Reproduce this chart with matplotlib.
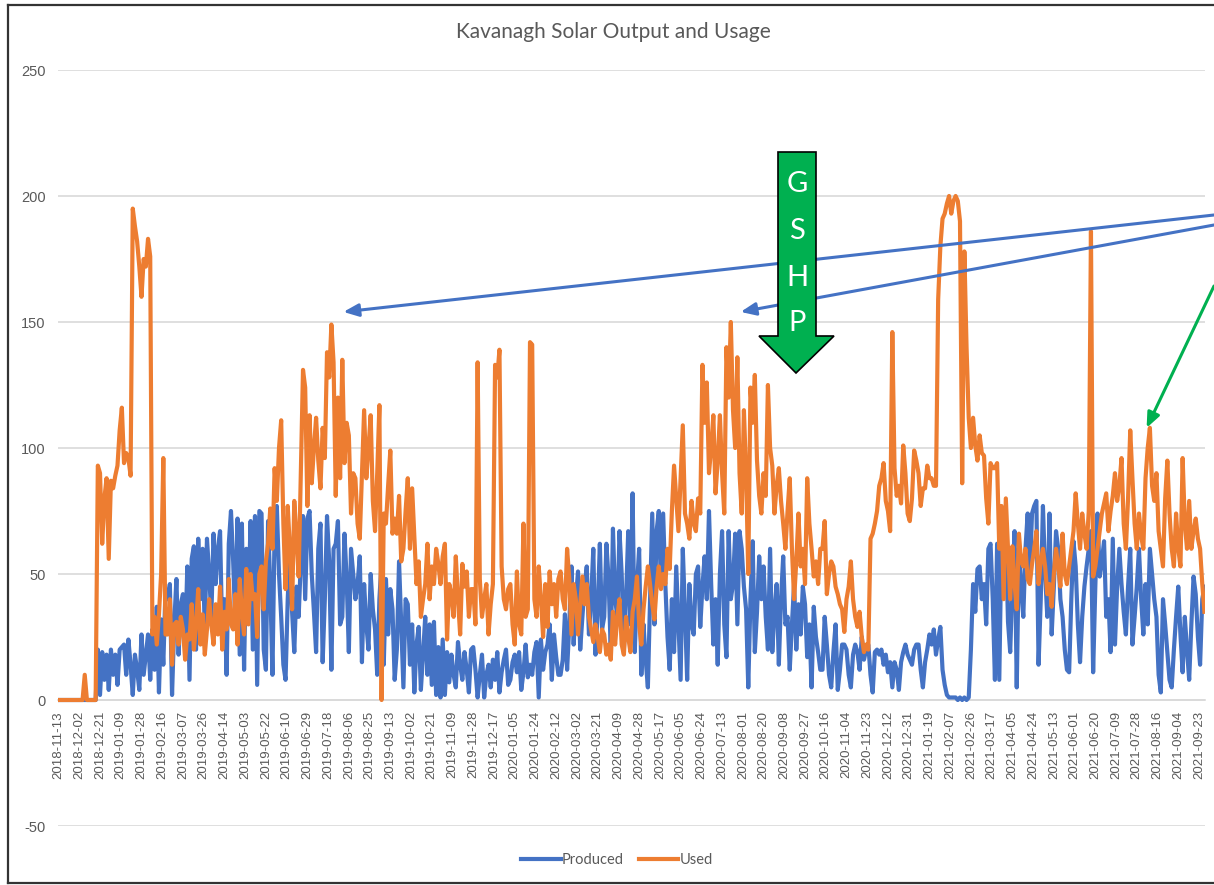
import matplotlib
matplotlib.use("Agg")
import matplotlib.pyplot as plt
import pandas as pd
from matplotlib.patches import Polygon
from matplotlib.lines import Line2D

plt.rcParams["axes.unicode_minus"] = False

# ---------------- data (one value every 2 days) ----------------
start_date = "2018-11-13"
step_days = 2

produced = [
    0, 0, 0, 0, 0, 0, 0, 0, 0, 0,
    0, 0, 0, 0, 0, 0, 0, 0, 20, 2,
    19, 8, 18, 4, 20, 10, 18, 6, 20, 21,
    22, 10, 24, 14, 2, 18, 12, 4, 26, 10,
    18, 26, 8, 28, 12, 37, 3, 32, 14, 44,
    40, 46, 2, 30, 48, 18, 38, 42, 22, 53,
    8, 56, 61, 20, 64, 40, 60, 28, 64, 50,
    33, 66, 46, 60, 67, 25, 40, 10, 62, 75,
    55, 30, 72, 18, 70, 12, 60, 40, 71, 20,
    73, 6, 75, 74, 20, 12, 71, 45, 10, 68,
    77, 50, 33, 14, 8, 40, 60, 35, 19, 45,
    33, 55, 73, 40, 72, 75, 50, 35, 19, 60,
    70, 15, 40, 73, 55, 12, 60, 62, 71, 30,
    33, 66, 48, 19, 60, 50, 40, 46, 57, 15,
    46, 30, 20, 50, 36, 28, 10, 40, 55, 14,
    48, 26, 44, 36, 8, 20, 55, 30, 5, 40,
    38, 14, 30, 3, 22, 29, 4, 18, 33, 10,
    30, 6, 31, 2, 21, 1, 24, 2, 19, 7,
    18, 10, 5, 23, 14, 8, 19, 12, 3, 20,
    21, 12, 1, 10, 18, 1, 10, 14, 5, 16,
    8, 19, 3, 11, 16, 20, 6, 8, 15, 18,
    11, 19, 4, 11, 22, 9, 14, 10, 19, 23,
    1, 24, 12, 19, 22, 30, 8, 26, 17, 10,
    10, 16, 34, 12, 30, 53, 22, 40, 51, 20,
    33, 45, 53, 26, 40, 60, 18, 35, 62, 28,
    33, 62, 48, 19, 68, 40, 33, 67, 50, 20,
    40, 67, 30, 82, 19, 45, 60, 10, 30, 16,
    5, 40, 74, 30, 67, 75, 45, 74, 46, 25,
    12, 40, 19, 53, 30, 8, 60, 35, 8, 46,
    30, 26, 50, 53, 29, 45, 57, 40, 75, 46,
    22, 40, 14, 50, 67, 30, 17, 67, 40, 46,
    66, 30, 67, 60, 45, 36, 5, 40, 63, 19,
    35, 57, 40, 53, 33, 20, 60, 19, 35, 46,
    14, 40, 57, 30, 33, 12, 30, 46, 20, 38,
    26, 45, 38, 17, 30, 5, 37, 25, 19, 12,
    12, 33, 22, 10, 5, 19, 30, 4, 12, 22,
    22, 20, 10, 5, 18, 22, 19, 12, 25, 16,
    20, 22, 10, 3, 19, 20, 18, 20, 14, 18,
    11, 15, 5, 15, 12, 4, 15, 19, 22, 18,
    16, 14, 20, 22, 22, 12, 5, 15, 20, 26,
    22, 28, 18, 24, 29, 12, 6, 2, 1, 1,
    1, 1, 0, 1, 0, 1, 0, 1, 20, 46,
    35, 52, 53, 40, 46, 30, 60, 62, 40, 8,
    62, 8, 64, 46, 66, 31, 19, 46, 67, 5,
    60, 45, 33, 60, 74, 50, 74, 77, 79, 14,
    40, 77, 50, 33, 74, 26, 45, 67, 60, 40,
    33, 20, 12, 11, 40, 63, 53, 30, 15, 33,
    45, 53, 60, 67, 11, 45, 74, 49, 55, 63,
    33, 40, 19, 64, 22, 45, 60, 46, 35, 26,
    45, 60, 22, 33, 45, 60, 40, 26, 46, 30,
    60, 50, 40, 33, 10, 3, 40, 30, 19, 8,
    5, 20, 33, 45, 26, 11, 33, 20, 8, 30,
    49, 42, 25, 14, 40, 45,
]

used = [
    0, 0, 0, 0, 0, 0, 0, 0, 0, 0,
    0, 0, 10, 0, 0, 0, 0, 0, 93, 90,
    62, 80, 88, 56, 87, 84, 89, 93, 107, 116,
    94, 98, 96, 89, 195, 188, 182, 172, 160, 175,
    172, 183, 176, 26, 33, 22, 34, 50, 96, 26,
    26, 40, 14, 30, 31, 22, 33, 28, 16, 26,
    24, 38, 20, 30, 44, 22, 34, 18, 28, 40,
    30, 22, 38, 26, 45, 20, 35, 28, 48, 30,
    28, 42, 22, 48, 35, 26, 52, 30, 50, 40,
    42, 25, 50, 53, 36, 55, 62, 76, 60, 92,
    79, 100, 111, 70, 44, 77, 60, 36, 79, 65,
    49, 90, 131, 124, 77, 113, 86, 100, 112, 95,
    84, 108, 96, 138, 128, 149, 134, 81, 120, 88,
    135, 94, 110, 105, 74, 90, 88, 70, 64, 90,
    115, 88, 100, 113, 79, 67, 90, 117, 0, 74,
    70, 85, 99, 66, 72, 66, 81, 55, 60, 75,
    88, 60, 84, 65, 46, 55, 33, 40, 46, 62,
    40, 53, 46, 60, 54, 46, 57, 62, 24, 46,
    42, 33, 57, 40, 26, 54, 45, 51, 33, 44,
    44, 30, 134, 48, 33, 40, 46, 26, 38, 46,
    133, 128, 139, 53, 40, 36, 44, 46, 30, 22,
    51, 30, 26, 70, 33, 36, 142, 141, 40, 33,
    53, 40, 25, 46, 29, 51, 38, 46, 33, 48,
    51, 40, 36, 60, 48, 26, 46, 40, 26, 38,
    49, 38, 46, 33, 28, 23, 30, 25, 19, 28,
    26, 18, 22, 16, 35, 22, 33, 40, 22, 18,
    33, 25, 19, 35, 40, 49, 30, 22, 36, 45,
    53, 46, 38, 32, 45, 53, 44, 50, 46, 60,
    52, 75, 93, 80, 67, 88, 109, 74, 70, 64,
    79, 70, 67, 80, 74, 133, 110, 126, 90, 100,
    113, 82, 95, 113, 90, 74, 140, 120, 150, 115,
    100, 136, 90, 74, 115, 90, 50, 124, 110, 129,
    95, 81, 74, 90, 81, 125, 100, 93, 74, 85,
    92, 79, 70, 60, 75, 88, 60, 40, 55, 74,
    53, 60, 46, 88, 70, 60, 49, 55, 46, 60,
    60, 71, 42, 50, 55, 53, 45, 42, 38, 36,
    27, 40, 45, 55, 40, 33, 29, 35, 25, 19,
    22, 20, 64, 66, 70, 75, 85, 88, 94, 79,
    75, 67, 146, 92, 81, 85, 78, 101, 90, 74,
    71, 80, 99, 95, 90, 77, 84, 84, 93, 88,
    88, 85, 85, 159, 180, 191, 193, 197, 200, 193,
    198, 200, 198, 190, 86, 178, 140, 112, 100, 112,
    101, 95, 105, 98, 97, 80, 70, 94, 92, 92,
    94, 60, 77, 40, 80, 60, 40, 61, 46, 36,
    66, 55, 53, 60, 48, 46, 54, 60, 67, 46,
    55, 60, 53, 42, 46, 37, 50, 60, 53, 45,
    66, 50, 46, 53, 60, 67, 82, 70, 60, 74,
    66, 60, 75, 186, 49, 53, 60, 67, 74, 78,
    82, 67, 75, 81, 90, 79, 85, 96, 70, 60,
    80, 107, 88, 70, 60, 74, 65, 60, 88, 100,
    108, 85, 79, 90, 67, 60, 53, 80, 95, 74,
    60, 53, 74, 60, 53, 96, 70, 60, 79, 60,
    67, 72, 64, 60, 46, 35,
]

tick_labels = [
    "2018-11-13", "2018-12-02", "2018-12-21", "2019-01-09", "2019-01-28", "2019-02-16",
    "2019-03-07", "2019-03-26", "2019-04-14", "2019-05-03", "2019-05-22", "2019-06-10",
    "2019-06-29", "2019-07-18", "2019-08-06", "2019-08-25", "2019-09-13", "2019-10-02",
    "2019-10-21", "2019-11-09", "2019-11-28", "2019-12-17", "2020-01-05", "2020-01-24",
    "2020-02-12", "2020-03-02", "2020-03-21", "2020-04-09", "2020-04-28", "2020-05-17",
    "2020-06-05", "2020-06-24", "2020-07-13", "2020-08-01", "2020-08-20", "2020-09-08",
    "2020-09-27", "2020-10-16", "2020-11-04", "2020-11-23", "2020-12-12", "2020-12-31",
    "2021-01-19", "2021-02-07", "2021-02-26", "2021-03-17", "2021-04-05", "2021-04-24",
    "2021-05-13", "2021-06-01", "2021-06-20", "2021-07-09", "2021-07-28", "2021-08-16",
    "2021-09-04", "2021-09-23",
]
y_ticks = [-50, 0, 50, 100, 150, 200, 250]
series_names = ["Produced", "Used"]
title_text = "Kavanagh Solar Output and Usage"

# annotation targets (peaks pointed at)
blue_targets = [("2019-08-01", 154), ("2020-07-30", 154)]
green_target = ("2021-08-06", 108)
gshp_letters = ["G", "S", "H", "P"]

# ---------------- styling ----------------
BLUE = "#4472C4"
ORANGE = "#ED7D31"
GREEN = "#00B050"
GRID = "#D9D9D9"
TXT = "#595959"
LW = 3.0

W, H, DPI = 1214, 885, 100
fig = plt.figure(figsize=(W / DPI, H / DPI), dpi=DPI)
fig.patch.set_facecolor("white")


def fx(px):
    return px / W


def fy(py):
    return 1 - py / H


dates = pd.date_range(start_date, periods=len(produced), freq=f"{step_days}D")

ax = fig.add_axes([fx(58), fy(826), fx(1205) - fx(58), fy(70) - fy(826)])
ax.plot(dates, produced, color=BLUE, lw=LW, solid_joinstyle="round", zorder=3)
ax.plot(dates, used, color=ORANGE, lw=LW, solid_joinstyle="round", zorder=4)

ax.set_xlim(dates[0] - pd.Timedelta(hours=12), dates[-1] + pd.Timedelta(hours=12))
ax.set_ylim(y_ticks[0], y_ticks[-1])
ax.set_yticks(y_ticks)
ax.yaxis.grid(True, color=GRID, lw=1.2)
ax.set_axisbelow(True)
for s in ["top", "right", "left"]:
    ax.spines[s].set_visible(False)
ax.spines["bottom"].set_position(("data", 0))
ax.spines["bottom"].set_color(GRID)
ax.spines["bottom"].set_linewidth(1.2)

ax.set_xticks(pd.to_datetime(tick_labels))
ax.set_xticklabels(tick_labels, rotation=90, fontsize=9.5, color=TXT,
                   family=["Liberation Sans", "DejaVu Sans"], va="top", ha="center")
ax.tick_params(axis="x", length=0, pad=8)
ax.tick_params(axis="y", length=0, pad=9, labelsize=10.5, labelcolor=TXT)
for lab in ax.get_yticklabels():
    lab.set_family(["Liberation Sans", "DejaVu Sans"])

fig.text(fx(613), fy(32), title_text, ha="center", va="center", fontsize=15,
         color=TXT, family=["Lato", "DejaVu Sans"])

handles = [Line2D([], [], color=BLUE, lw=LW), Line2D([], [], color=ORANGE, lw=LW)]
fig.legend(handles, series_names, loc="center", bbox_to_anchor=(fx(617), fy(860)),
           ncol=2, frameon=False, handlelength=2.7, handletextpad=0.1, columnspacing=1.0,
           prop={"family": ["Lato", "DejaVu Sans"], "size": 10.5}, labelcolor=TXT)

# GSHP block arrow (figure pixel geometry)
arrow_px = [(778, 152), (816, 152), (816, 336), (834, 336), (796, 373), (759, 336), (778, 336)]
poly = Polygon([(fx(x), fy(y)) for x, y in arrow_px], closed=True, transform=fig.transFigure,
               facecolor=GREEN, edgecolor="black", lw=1.2, zorder=10)
fig.add_artist(poly)
for letter, ypx in zip(gshp_letters, [184, 231, 278, 323]):
    fig.text(fx(797), fy(ypx), letter, ha="center", va="center", fontsize=21,
             color="white", family=["Lato", "DejaVu Sans"], zorder=11)

# arrows from the (cropped) right edge to the peaks
for (tdate, tval), ystart in zip(blue_targets, [215, 225]):
    ax.annotate("", xy=(pd.Timestamp(tdate), tval), xycoords="data",
                xytext=(fx(1214), fy(ystart)), textcoords="figure fraction",
                arrowprops=dict(arrowstyle="-|>,head_length=0.9,head_width=0.38",
                                color=BLUE, lw=2.2, shrinkA=0, shrinkB=0),
                annotation_clip=False, zorder=12)
ax.annotate("", xy=(pd.Timestamp(green_target[0]), green_target[1]), xycoords="data",
            xytext=(fx(1214), fy(286)), textcoords="figure fraction",
            arrowprops=dict(arrowstyle="-|>,head_length=0.9,head_width=0.38",
                            color=GREEN, lw=2.2, shrinkA=0, shrinkB=0),
            annotation_clip=False, zorder=12)

# picture frame (right side cropped off)
frame_kw = dict(color="#333333", lw=1.6, transform=fig.transFigure)
fig.add_artist(Line2D([fx(8), fx(8)], [fy(5), fy(883)], **frame_kw))
fig.add_artist(Line2D([fx(8), 1.0], [fy(5), fy(5)], **frame_kw))
fig.add_artist(Line2D([fx(8), 1.0], [fy(883), fy(883)], **frame_kw))

fig.savefig("out.png", dpi=DPI, facecolor="white")
